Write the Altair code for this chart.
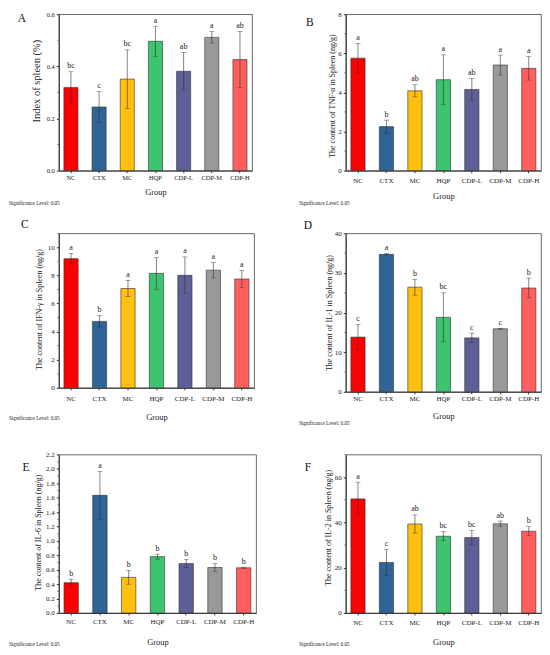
import altair as alt
import pandas as pd

groups = ["NC", "CTX", "MC", "HQP", "CDP-L", "CDP-M", "CDP-H"]
colors = ["#FF0000", "#2E6496", "#FFC010", "#3CC46E", "#5F5F98", "#999999", "#FF5F5F"]

A_mean = [0.319, 0.244, 0.351, 0.496, 0.381, 0.511, 0.426]
A_err = [0.060, 0.060, 0.112, 0.058, 0.072, 0.022, 0.108]
A_sig = ["bc", "c", "bc", "a", "ab", "a", "ab"]

B_mean = [5.75, 2.25, 4.08, 4.65, 4.15, 5.40, 5.23]
B_err = [0.75, 0.33, 0.31, 1.27, 0.57, 0.51, 0.60]
B_sig = ["a", "b", "ab", "a", "ab", "a", "a"]

C_mean = [9.20, 4.73, 7.07, 8.15, 8.01, 8.38, 7.75]
C_err = [0.37, 0.40, 0.58, 1.13, 1.31, 0.55, 0.61]
C_sig = ["a", "b", "a", "a", "a", "a", "a"]

D_mean = [13.8, 34.7, 26.4, 18.8, 13.6, 15.9, 26.2]
D_err = [3.2, 0.2, 2.0, 6.2, 1.2, 0.1, 2.5]
D_sig = ["c", "a", "b", "bc", "c", "c", "b"]

E_mean = [0.420, 1.633, 0.494, 0.782, 0.686, 0.631, 0.627]
E_err = [0.050, 0.335, 0.095, 0.034, 0.055, 0.055, 0.009]
E_sig = ["b", "a", "b", "b", "b", "b", "b"]

F_mean = [50.4, 22.3, 39.3, 33.9, 33.3, 39.4, 36.1]
F_err = [7.4, 5.7, 4.0, 2.0, 3.2, 1.2, 2.0]
F_sig = ["a", "c", "ab", "bc", "bc", "ab", "b"]

A_major = [0.0, 0.2, 0.4, 0.6]
A_minor = [0.1, 0.3, 0.5]
B_major = [0, 2, 4, 6, 8]
B_minor = [1, 3, 5, 7]
C_major = [0, 2, 4, 6, 8, 10]
C_minor = [1, 3, 5, 7, 9, 11]
D_major = [0, 10, 20, 30, 40]
D_minor = [5, 15, 25, 35]
E_major = [0.0, 0.2, 0.4, 0.6, 0.8, 1.0, 1.2, 1.4, 1.6, 1.8, 2.0, 2.2]
E_minor = [0.1, 0.3, 0.5, 0.7, 0.9, 1.1, 1.3, 1.5, 1.7, 1.9, 2.1]
F_major = [0, 20, 40, 60]
F_minor = [10, 30, 50, 70]

FONT = "Liberation Serif"
INK = "#333333"
TXT = "#222222"
SIG_TEXT = "Significance Level: 0.05"


def panel(mean, err, sig, ymax, major, minor, fmt, ytitle, letter, w, h,
          ytitle_size, ytitle_x, ytitle_yf, tick_size, xlab_pad, xtitle_y,
          sig_x, sig_y, let_x, let_y):
    df = pd.DataFrame({
        "group": groups,
        "mean": mean,
        "lo": [m - e for m, e in zip(mean, err)],
        "hi": [m + e for m, e in zip(mean, err)],
        "sig": sig,
    })
    xaxis = alt.Axis(title="Group", labelAngle=0, labelFont=FONT,
                     labelFontSize=tick_size, labelColor=TXT,
                     labelOverlap=False,
                     tickSize=2, tickColor=INK, domainColor=INK,
                     labelPadding=xlab_pad, titleFont=FONT,
                     titleFontSize=8.5, titleFontWeight="normal",
                     titleColor=TXT, titleY=xtitle_y,
                     titleBaseline="middle")
    xscale = alt.Scale(domain=groups, paddingInner=0.5, paddingOuter=0.18)
    xenc = alt.X("group:N", sort=groups, scale=xscale, axis=xaxis, title="Group")
    yaxis = alt.Axis(title=ytitle, values=major, format=fmt,
                     grid=False, tickSize=2.5, tickColor=INK,
                     domainColor=INK, labelFont=FONT,
                     labelFontSize=tick_size, labelColor=TXT,
                     labelOverlap=False, labelFlush=False,
                     labelPadding=2, titleFont=FONT,
                     titleFontSize=ytitle_size,
                     titleFontWeight="normal", titleColor=TXT,
                     titleX=ytitle_x, titleY=h * ytitle_yf,
                     titleBaseline="middle")
    yscale = alt.Scale(domain=[0, ymax], nice=False, zero=True)

    def yenc(field):
        return alt.Y(field, scale=yscale, axis=yaxis, title=ytitle)

    base = alt.Chart(df)
    bars = base.mark_bar(stroke=INK, strokeWidth=0.6).encode(
        x=xenc, y=yenc("mean:Q"),
        color=alt.Color("group:N", scale=alt.Scale(domain=groups, range=colors),
                        legend=None),
    )
    rules = base.mark_rule(color=INK, strokeWidth=0.6).encode(
        x=xenc, y=yenc("lo:Q"), y2="hi:Q")
    cap_lo = base.mark_tick(color=INK, thickness=0.6, size=5).encode(
        x=xenc, y=yenc("lo:Q"))
    cap_hi = base.mark_tick(color=INK, thickness=0.6, size=5).encode(
        x=xenc, y=yenc("hi:Q"))
    letters = base.mark_text(font=FONT, fontSize=8, baseline="bottom",
                             dy=-1.5, fill=TXT).encode(
        x=xenc, y=yenc("hi:Q"), text="sig:N")
    minor_df = pd.DataFrame({"v": minor})
    minor_ticks = alt.Chart(minor_df).mark_rule(color=INK, strokeWidth=0.6).encode(
        y=yenc("v:Q"), x=alt.value(-1.5), x2=alt.value(0))
    sig_txt = alt.Chart(pd.DataFrame({"t": [SIG_TEXT]})).mark_text(
        font=FONT, fontSize=5.2, align="left", baseline="middle",
        fill=TXT).encode(x=alt.value(sig_x), y=alt.value(h + sig_y),
                         text="t:N")
    let_txt = alt.Chart(pd.DataFrame({"t": [letter]})).mark_text(
        font=FONT, fontSize=11.5, align="center", baseline="middle",
        fill="#111111").encode(x=alt.value(let_x), y=alt.value(let_y),
                               text="t:N")
    return alt.layer(bars, rules, cap_lo, cap_hi, letters, minor_ticks,
                     sig_txt, let_txt).properties(width=w, height=h)


pA = panel(A_mean, A_err, A_sig, 0.6, A_major, A_minor, ".1f",
           "Index of spleen (%)", "A", 194, 157, 10.5, -22, 0.425, 6.5, 1.5, 21,
           -50, 33, -37, 5)
pB = panel(B_mean, B_err, B_sig, 8, B_major, B_minor, "d",
           "The content of TNF-α in Spleen (ng/g)", "B", 196, 157, 8, -13, 0.52,
           7, 3.5, 25, -47, 33, -36, 9)
pC = panel(C_mean, C_err, C_sig, 11, C_major, C_minor, "d",
           "The content of IFN-γ in Spleen (ng/g)", "C", 196, 155, 8, -19, 0.49,
           7, 4.5, 29, -50, 30, -34, -8)
pD = panel(D_mean, D_err, D_sig, 40, D_major, D_minor, "d",
           "The content of  IL-1 in Spleen (ng/g)", "D", 196, 159, 8, -16, 0.5,
           7, 0.5, 24, -47, 31, -38, -7)
pE = panel(E_mean, E_err, E_sig, 2.2, E_major, E_minor, ".1f",
           "The content of  IL-6 in Spleen (ng/g)", "E", 198, 159, 8, -20, 0.49,
           7, 2.5, 29, -50, 31, -33, 14)
pF = panel(F_mean, F_err, F_sig, 70, F_major, F_minor, "d",
           "The content of  IL-2 in Spleen (ng/g)", "F", 196, 159, 8, -17, 0.46,
           7, 3.5, 29, -47, 31, -38, 14)

chart = alt.concat(pA, pB, pC, pD, pE, pF, columns=2,
                   spacing={"row": 63, "column": 90},
                   bounds="flush", align="each").properties(
    padding=0, background="white"
).configure_view(stroke="#444444", strokeWidth=0.8).configure_axis(
    labelOverlap=False
)

chart.save("out.html", embed_options={"renderer": "svg", "actions": False})
